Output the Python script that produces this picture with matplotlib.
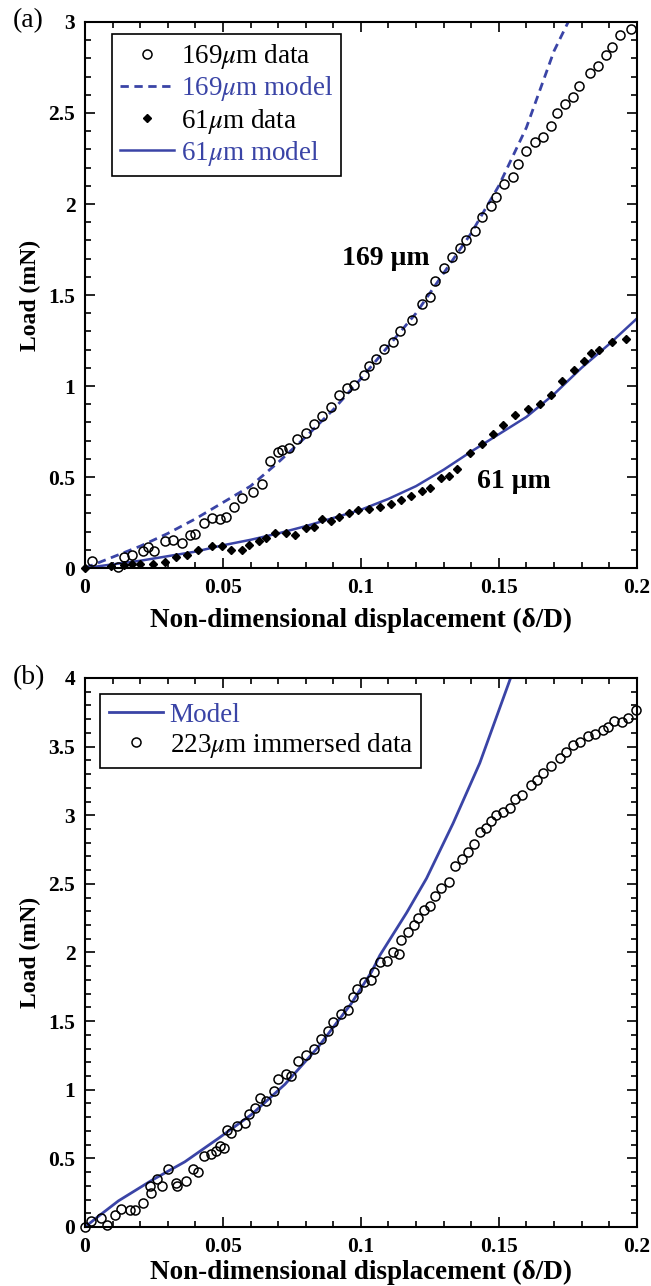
import matplotlib
matplotlib.use('Agg')
import matplotlib.pyplot as plt
from matplotlib.ticker import MultipleLocator

plt.rcParams['font.family'] = ['Liberation Serif', 'DejaVu Serif']
plt.rcParams['mathtext.fontset'] = 'stix'

blue = '#3a44a6'

# ---- panel (a) data ----
x169 = [0.0027, 0.0118, 0.014, 0.017, 0.021, 0.023, 0.025, 0.029, 0.032, 0.035,
        0.038, 0.040, 0.043, 0.046, 0.049, 0.051, 0.054, 0.057, 0.061, 0.064,
        0.067, 0.070, 0.0715, 0.074, 0.077, 0.080, 0.083, 0.086, 0.089, 0.092,
        0.095, 0.0975, 0.101, 0.103, 0.1055, 0.1085, 0.1115, 0.114, 0.1184, 0.122,
        0.125, 0.127, 0.130, 0.133, 0.136, 0.138, 0.1415, 0.144, 0.147, 0.149,
        0.152, 0.155, 0.157, 0.160, 0.163, 0.166, 0.169, 0.171, 0.174, 0.177,
        0.179, 0.183, 0.186, 0.189, 0.191, 0.194, 0.198]
y169 = [0.036, 0.004, 0.058, 0.073, 0.091, 0.113, 0.091, 0.146, 0.155, 0.137,
        0.18, 0.186, 0.246, 0.277, 0.27, 0.279, 0.338, 0.387, 0.42, 0.46,
        0.588, 0.64, 0.648, 0.662, 0.71, 0.74, 0.79, 0.834, 0.885, 0.953,
        0.99, 1.007, 1.062, 1.11, 1.15, 1.204, 1.24, 1.305, 1.36, 1.45,
        1.49, 1.575, 1.65, 1.71, 1.76, 1.80, 1.85, 1.93, 1.99, 2.04,
        2.11, 2.15, 2.22, 2.29, 2.34, 2.37, 2.43, 2.50, 2.55, 2.59,
        2.65, 2.72, 2.76, 2.82, 2.86, 2.93, 2.96]

xm169 = [0, 0.01, 0.02, 0.03, 0.04, 0.05, 0.06, 0.07, 0.08, 0.09, 0.10,
         0.11, 0.12, 0.13, 0.14, 0.15, 0.16, 0.17, 0.18]
ym169 = [0, 0.06, 0.12, 0.19, 0.27, 0.36, 0.45, 0.58, 0.72, 0.87, 1.04,
         1.22, 1.40, 1.62, 1.84, 2.10, 2.42, 2.84, 3.15]

x61 = [0, 0.0095, 0.014, 0.017, 0.020, 0.0246, 0.029, 0.033, 0.037, 0.041,
       0.046, 0.0496, 0.053, 0.057, 0.0594, 0.063, 0.0655, 0.069, 0.073, 0.076,
       0.080, 0.083, 0.086, 0.089, 0.092, 0.0957, 0.099, 0.103, 0.107, 0.111,
       0.1146, 0.118, 0.122, 0.125, 0.129, 0.132, 0.135, 0.1395, 0.144, 0.148,
       0.1516, 0.1557, 0.1607, 0.165, 0.169, 0.173, 0.1773, 0.181, 0.1834, 0.1864,
       0.191, 0.196]
y61 = [0, 0.01, 0.018, 0.022, 0.024, 0.024, 0.031, 0.058, 0.073, 0.10,
       0.122, 0.119, 0.097, 0.097, 0.128, 0.146, 0.164, 0.195, 0.192, 0.182,
       0.219, 0.228, 0.27, 0.261, 0.283, 0.30, 0.318, 0.325, 0.338, 0.35,
       0.374, 0.396, 0.423, 0.438, 0.493, 0.507, 0.544, 0.63, 0.68, 0.739,
       0.788, 0.839, 0.872, 0.903, 0.949, 1.03, 1.09, 1.14, 1.18, 1.20,
       1.24, 1.26]

xm61 = [0, 0.01, 0.02, 0.03, 0.04, 0.05, 0.06, 0.07, 0.08, 0.09, 0.10,
        0.11, 0.12, 0.13, 0.14, 0.15, 0.16, 0.17, 0.18, 0.19, 0.20]
ym61 = [0, 0.02, 0.04, 0.065, 0.09, 0.125, 0.155, 0.19, 0.23, 0.275, 0.32,
        0.38, 0.45, 0.54, 0.64, 0.735, 0.83, 0.955, 1.10, 1.23, 1.37]

# ---- panel (b) data ----
xb = [0, 0.0023, 0.0057, 0.008, 0.0107, 0.013, 0.0163, 0.018, 0.021, 0.0234,
      0.0239, 0.026, 0.028, 0.030, 0.033, 0.0334, 0.0367, 0.039, 0.041, 0.043,
      0.0458, 0.0476, 0.049, 0.0503, 0.0515, 0.053, 0.055, 0.058, 0.0594, 0.0617,
      0.0636, 0.0655, 0.0685, 0.070, 0.0727, 0.0745, 0.0772, 0.080, 0.083, 0.0856,
      0.088, 0.090, 0.0927, 0.0954, 0.097, 0.0987, 0.101, 0.1037, 0.1048, 0.107,
      0.1093, 0.1116, 0.1138, 0.1146, 0.117, 0.1191, 0.1206, 0.123, 0.125, 0.1267,
      0.129, 0.132, 0.134, 0.1365, 0.139, 0.141, 0.143, 0.1453, 0.147, 0.149,
      0.1516, 0.154, 0.156, 0.1585, 0.1615, 0.1637, 0.166, 0.169, 0.172, 0.1743,
      0.177, 0.1796, 0.1823, 0.185, 0.1876, 0.1895, 0.1917, 0.1945, 0.197, 0.1997]
yb = [0, 0.041, 0.066, 0.017, 0.09, 0.134, 0.122, 0.127, 0.176, 0.30,
      0.244, 0.35, 0.30, 0.42, 0.32, 0.30, 0.334, 0.42, 0.40, 0.517,
      0.53, 0.553, 0.59, 0.573, 0.707, 0.688, 0.737, 0.761, 0.822, 0.87,
      0.937, 0.92, 0.993, 1.078, 1.115, 1.10, 1.21, 1.25, 1.30, 1.37,
      1.43, 1.49, 1.55, 1.58, 1.676, 1.737, 1.785, 1.80, 1.86, 1.93,
      1.94, 2.00, 1.99, 2.09, 2.15, 2.20, 2.25, 2.31, 2.34, 2.41,
      2.47, 2.51, 2.63, 2.68, 2.73, 2.79, 2.88, 2.91, 2.96, 3.00,
      3.02, 3.05, 3.12, 3.15, 3.22, 3.26, 3.31, 3.36, 3.42, 3.46,
      3.51, 3.53, 3.58, 3.59, 3.62, 3.64, 3.69, 3.68, 3.71, 3.77]

xmb = [0, 0.005, 0.0121, 0.0242, 0.0362, 0.0483, 0.0604, 0.0725, 0.0845,
       0.0966, 0.1039, 0.1069, 0.1166, 0.1238, 0.1334, 0.1431, 0.154, 0.158]
ymb = [0, 0.08, 0.19, 0.34, 0.475, 0.645, 0.82, 1.04, 1.31,
       1.63, 1.86, 1.98, 2.29, 2.54, 2.94, 3.38, 3.985, 4.2]

xticks = [0, 0.05, 0.1, 0.15, 0.2]
xticklabels = ['0', '0.05', '0.1', '0.15', '0.2']
yticks_a = [0, 0.5, 1, 1.5, 2, 2.5, 3]
yticks_b = [0, 0.5, 1, 1.5, 2, 2.5, 3, 3.5, 4]

fig = plt.figure(figsize=(6.51, 12.86), dpi=100)
ax1 = fig.add_axes([0.1306, 0.5583, 0.8475, 0.4246])
ax2 = fig.add_axes([0.1306, 0.0459, 0.8475, 0.4269])


def style_axes(ax, yticks, ymax, xlabelpad):
    ax.set_xlim(0, 0.2)
    ax.set_ylim(0, ymax)
    ax.set_xticks(xticks, labels=xticklabels, fontweight='bold')
    ax.set_yticks(yticks, labels=['%g' % v for v in yticks], fontweight='bold')
    ax.xaxis.set_minor_locator(MultipleLocator(0.01))
    ax.yaxis.set_minor_locator(MultipleLocator(0.1))
    ax.tick_params(which='both', direction='in', top=True, right=True,
                   width=1.2, labelsize=15.5)
    ax.tick_params(which='major', length=7)
    ax.tick_params(which='minor', length=4)
    ax.tick_params(axis='x', pad=7)
    ax.tick_params(axis='y', pad=7)
    for s in ax.spines.values():
        s.set_linewidth(1.5)
    ax.set_xlabel('Non-dimensional displacement (δ/D)', fontsize=19.5,
                  fontweight='bold', labelpad=xlabelpad)
    ax.set_ylabel('Load (mN)', fontsize=17, fontweight='bold', labelpad=5)


# panel (a)
ax1.plot(x169, y169, 'o', mfc='none', mec='black', ms=6.5, mew=1.1,
         clip_on=False, label=r'169$\mu$m data', zorder=3)
ax1.plot(xm169, ym169, '--', color=blue, lw=2, dashes=(3, 2),
         label=r'169$\mu$m model')
ax1.plot(x61, y61, 'D', color='black', ms=4.5, clip_on=False,
         label=r'61$\mu$m data', zorder=3)
ax1.plot(xm61, ym61, '-', color=blue, lw=1.8, label=r'61$\mu$m model')
style_axes(ax1, yticks_a, 3, 7)
leg1 = ax1.legend(loc='upper left', bbox_to_anchor=(0.049, 0.978), fontsize=19.5,
                  frameon=True, fancybox=False, edgecolor='black', framealpha=1,
                  handlelength=2.0, handletextpad=0.25, labelspacing=0.12,
                  borderpad=0.3, borderaxespad=0)
leg1.get_frame().set_linewidth(1.2)
for t, c in zip(leg1.get_texts(), ['black', blue, 'black', blue]):
    t.set_color(c)
ax1.text(0.109, 1.70, '169 μm', fontsize=20, fontweight='bold', ha='center', va='center')
ax1.text(0.1555, 0.478, '61 μm', fontsize=20, fontweight='bold', ha='center', va='center')
fig.text(0.02, 0.984, '(a)', fontsize=20, va='center', ha='left')

# panel (b)
ax2.plot(xmb, ymb, '-', color=blue, lw=2, label='Model')
ax2.plot(xb, yb, 'o', mfc='none', mec='black', ms=6.5, mew=1.1,
         clip_on=False, label=r'223$\mu$m immersed data', zorder=3)
style_axes(ax2, yticks_b, 4, 2)
leg2 = ax2.legend(loc='upper left', bbox_to_anchor=(0.028, 0.97), fontsize=19.5,
                  frameon=True, fancybox=False, edgecolor='black', framealpha=1,
                  handlelength=2.0, handletextpad=0.25, labelspacing=0.12,
                  borderpad=0.3, borderaxespad=0)
leg2.get_frame().set_linewidth(1.2)
for t, c in zip(leg2.get_texts(), [blue, 'black']):
    t.set_color(c)
fig.text(0.02, 0.473, '(b)', fontsize=20, va='center', ha='left')

fig.savefig('out.png', dpi=100)
